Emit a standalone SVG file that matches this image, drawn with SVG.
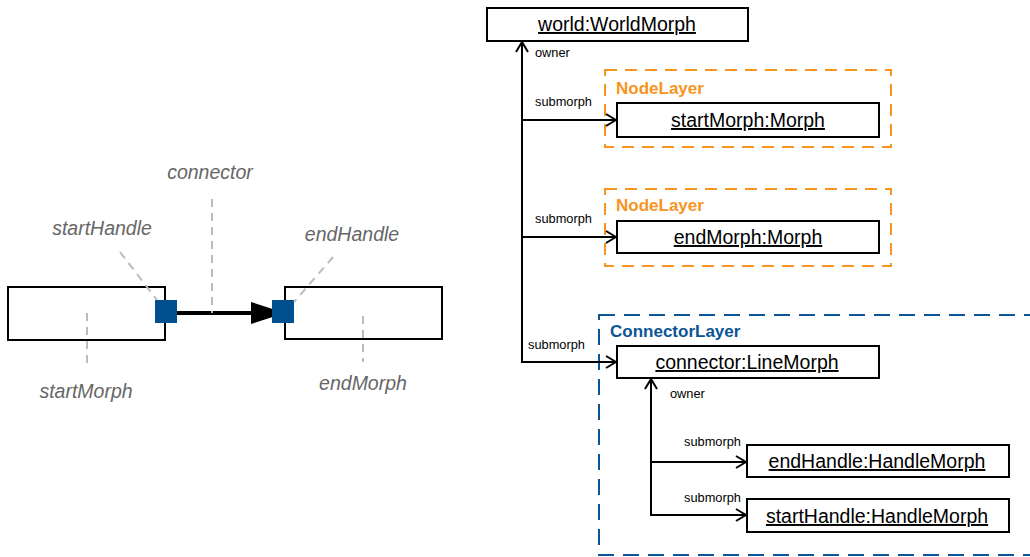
<svg xmlns="http://www.w3.org/2000/svg" width="1030" height="557" viewBox="0 0 1030 557">
<defs>
<style>
.box{fill:#fff;stroke:#000;stroke-width:2}
.obj{font-family:"Liberation Sans",Arial,sans-serif;font-size:19.5px;text-anchor:middle;text-decoration:underline;fill:#000}
.lbl{font-family:"Liberation Sans",Arial,sans-serif;font-size:12.8px;fill:#000}
.it{font-family:"Liberation Sans",Arial,sans-serif;font-size:19.5px;font-style:italic;fill:#666;text-anchor:middle}
.gd{stroke:#bbb;stroke-width:2;stroke-dasharray:8 6;fill:none}
.ln{stroke:#000;stroke-width:2;fill:none}
.layerO{fill:none;stroke:#f7941d;stroke-width:2;stroke-dasharray:12 8}
.layerB{fill:none;stroke:#0b5596;stroke-width:2;stroke-dasharray:16 9}
.tO{font-family:"Liberation Sans",Arial,sans-serif;font-size:17px;font-weight:bold;fill:#f7941d}
.tB{font-family:"Liberation Sans",Arial,sans-serif;font-size:17px;font-weight:bold;fill:#0b5596}
.hdl{fill:#00508f}
</style>
<marker id="open" viewBox="0 0 12 14" refX="11" refY="7" markerWidth="12" markerHeight="14" markerUnits="userSpaceOnUse" orient="auto">
<path d="M1,1 L11,7 L1,13" fill="none" stroke="#000" stroke-width="2"/>
</marker>
<marker id="solid" viewBox="0 0 34 22" refX="34" refY="11" markerWidth="34" markerHeight="22" markerUnits="userSpaceOnUse" orient="auto">
<path d="M0,0 L34,11 L0,22 Z" fill="#000"/>
</marker>
</defs>

<!-- Left illustration -->
<g id="startMorph"><rect class="box" x="8" y="287" width="157" height="53" stroke-width="1.5"/></g>
<g id="endMorph"><rect class="box" x="285" y="287" width="157" height="52" stroke-width="1.5"/></g>
<g id="connectorLine"><line x1="166" y1="313" x2="285" y2="313" stroke="#000" stroke-width="4" marker-end="url(#solid)"/></g>
<g id="startHandle"><rect class="hdl" x="155" y="300" width="22" height="23"/></g>
<g id="endHandle"><rect class="hdl" x="272" y="300" width="22" height="23"/></g>
<g id="callouts">
<line class="gd" x1="120" y1="252" x2="157" y2="300"/>
<line class="gd" x1="333" y1="257" x2="294" y2="302"/>
<line class="gd" x1="212" y1="199" x2="212" y2="313"/>
<line class="gd" x1="87" y1="313" x2="87" y2="369"/>
<line class="gd" x1="363" y1="316" x2="363" y2="362"/>
<text class="it" x="210" y="179">connector</text>
<text class="it" x="102" y="235">startHandle</text>
<text class="it" x="352" y="241">endHandle</text>
<text class="it" x="86" y="398">startMorph</text>
<text class="it" x="363" y="390">endMorph</text>
</g>

<!-- Layers -->
<g id="nodeLayer1"><rect class="layerO" x="605" y="70" width="286" height="77"/><text class="tO" x="616" y="94">NodeLayer</text></g>
<g id="nodeLayer2"><rect class="layerO" x="605" y="189" width="286" height="77"/><text class="tO" x="616" y="211">NodeLayer</text></g>
<g id="connectorLayer"><rect class="layerB" x="599" y="315" width="450" height="240"/><text class="tB" x="610" y="337">ConnectorLayer</text></g>

<!-- Object nodes -->
<g id="world"><rect class="box" x="487" y="8" width="261" height="33"/><text class="obj" x="617" y="31">world:WorldMorph</text></g>
<g id="startMorphObj"><rect class="box" x="617" y="103" width="262" height="34"/><text class="obj" x="748" y="127">startMorph:Morph</text></g>
<g id="endMorphObj"><rect class="box" x="617" y="221" width="262" height="32"/><text class="obj" x="748" y="244">endMorph:Morph</text></g>
<g id="connectorObj"><rect class="box" x="617" y="346" width="262" height="32"/><text class="obj" x="747" y="369">connector:LineMorph</text></g>
<g id="endHandleObj"><rect class="box" x="747" y="445" width="262" height="32"/><text class="obj" x="877" y="468">endHandle:HandleMorph</text></g>
<g id="startHandleObj"><rect class="box" x="747" y="499" width="262" height="33"/><text class="obj" x="877" y="523">startHandle:HandleMorph</text></g>

<!-- Connectors -->
<g id="connectors">
<line class="ln" x1="522" y1="362" x2="522" y2="42" marker-end="url(#open)"/>
<line class="ln" x1="522" y1="120" x2="616" y2="120" marker-end="url(#open)"/>
<line class="ln" x1="522" y1="237" x2="616" y2="237" marker-end="url(#open)"/>
<line class="ln" x1="521" y1="362" x2="616" y2="362" marker-end="url(#open)"/>
<line class="ln" x1="651" y1="516" x2="651" y2="379" marker-end="url(#open)"/>
<line class="ln" x1="651" y1="462" x2="746" y2="462" marker-end="url(#open)"/>
<line class="ln" x1="650" y1="515" x2="746" y2="515" marker-end="url(#open)"/>
<text class="lbl" x="535" y="57">owner</text>
<text class="lbl" x="535" y="106">submorph</text>
<text class="lbl" x="535" y="223">submorph</text>
<text class="lbl" x="528" y="349">submorph</text>
<text class="lbl" x="670" y="398">owner</text>
<text class="lbl" x="684" y="446">submorph</text>
<text class="lbl" x="684" y="502">submorph</text>
</g>
</svg>
